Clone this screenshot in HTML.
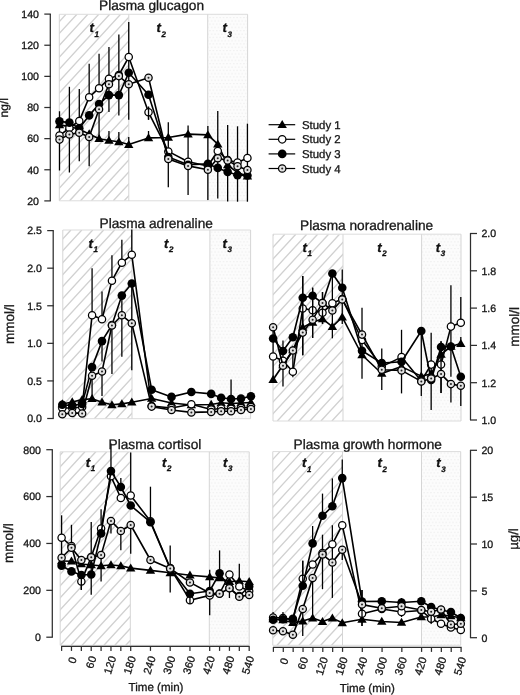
<!DOCTYPE html>
<html><head><meta charset="utf-8"><title>Plasma hormones</title>
<style>
html,body{margin:0;padding:0;background:#fff;}
svg{display:block;font-family:"Liberation Sans",sans-serif;will-change:transform;text-rendering:geometricPrecision;}
text{stroke:#111;stroke-width:0.3px;}
</style></head><body>
<svg width="520" height="695" viewBox="0 0 520 695">
<defs>
<pattern id="dots" patternUnits="userSpaceOnUse" width="3.4" height="6.6">
<rect width="3.4" height="6.6" fill="#fcfcfc"/>
<rect x="0.4" y="0.6" width="0.9" height="0.9" fill="#e2e2e2"/>
<rect x="2.1" y="3.9" width="0.9" height="0.9" fill="#e2e2e2"/>
</pattern>
</defs>
<rect width="520" height="695" fill="#fff"/>
<clipPath id="c1"><rect x="59.30" y="14.30" width="69.50" height="186.50"/></clipPath>
<path d="M-126.96 200.80 L44.14 14.30 M-116.04 200.80 L55.06 14.30 M-105.12 200.80 L65.98 14.30 M-94.20 200.80 L76.90 14.30 M-83.28 200.80 L87.82 14.30 M-72.36 200.80 L98.74 14.30 M-61.44 200.80 L109.66 14.30 M-50.52 200.80 L120.58 14.30 M-39.60 200.80 L131.50 14.30 M-28.68 200.80 L142.42 14.30 M-17.76 200.80 L153.34 14.30 M-6.84 200.80 L164.26 14.30 M4.08 200.80 L175.18 14.30 M15.00 200.80 L186.10 14.30 M25.92 200.80 L197.02 14.30 M36.84 200.80 L207.94 14.30 M47.76 200.80 L218.86 14.30 M58.68 200.80 L229.78 14.30 M69.60 200.80 L240.70 14.30 M80.52 200.80 L251.62 14.30 M91.44 200.80 L262.54 14.30 M102.36 200.80 L273.46 14.30 M113.28 200.80 L284.38 14.30 M124.20 200.80 L295.30 14.30" stroke="#d1d1d1" stroke-width="1.35" fill="none" clip-path="url(#c1)"/>
<rect x="207.70" y="14.30" width="39.90" height="186.50" fill="url(#dots)"/>
<path d="M59.30 14.30 H247.60 M59.30 200.80 H247.60" fill="none" stroke="#dcdcdc" stroke-width="1"/>
<line x1="59.30" y1="14.30" x2="59.30" y2="200.80" stroke="#d5d5d5" stroke-width="1"/>
<line x1="128.80" y1="14.30" x2="128.80" y2="200.80" stroke="#d5d5d5" stroke-width="1"/>
<line x1="207.70" y1="14.30" x2="207.70" y2="200.80" stroke="#d5d5d5" stroke-width="1"/>
<line x1="247.60" y1="14.30" x2="247.60" y2="200.80" stroke="#d5d5d5" stroke-width="1"/>
<line x1="59.50" y1="111.25" x2="59.50" y2="170.50" stroke="#000" stroke-width="1.3"/>
<line x1="69.39" y1="86.80" x2="69.39" y2="172.50" stroke="#000" stroke-width="1.3"/>
<line x1="79.28" y1="89.00" x2="79.28" y2="161.25" stroke="#000" stroke-width="1.3"/>
<line x1="89.17" y1="63.80" x2="89.17" y2="97.00" stroke="#000" stroke-width="1.3"/>
<line x1="89.17" y1="137.00" x2="89.17" y2="166.25" stroke="#000" stroke-width="1.3"/>
<line x1="99.06" y1="53.75" x2="99.06" y2="88.00" stroke="#000" stroke-width="1.3"/>
<line x1="99.06" y1="109.00" x2="99.06" y2="138.00" stroke="#000" stroke-width="1.3"/>
<line x1="108.95" y1="47.00" x2="108.95" y2="111.90" stroke="#000" stroke-width="1.3"/>
<line x1="108.95" y1="131.00" x2="108.95" y2="140.00" stroke="#000" stroke-width="1.3"/>
<line x1="118.85" y1="34.50" x2="118.85" y2="115.40" stroke="#000" stroke-width="1.3"/>
<line x1="118.85" y1="132.00" x2="118.85" y2="141.00" stroke="#000" stroke-width="1.3"/>
<line x1="128.74" y1="22.10" x2="128.74" y2="119.70" stroke="#000" stroke-width="1.3"/>
<line x1="128.74" y1="137.00" x2="128.74" y2="144.00" stroke="#000" stroke-width="1.3"/>
<line x1="148.52" y1="106.70" x2="148.52" y2="119.70" stroke="#000" stroke-width="1.3"/>
<line x1="148.52" y1="131.00" x2="148.52" y2="138.00" stroke="#000" stroke-width="1.3"/>
<line x1="168.30" y1="122.30" x2="168.30" y2="187.20" stroke="#000" stroke-width="1.3"/>
<line x1="188.08" y1="125.40" x2="188.08" y2="195.00" stroke="#000" stroke-width="1.3"/>
<line x1="207.87" y1="126.00" x2="207.87" y2="200.00" stroke="#000" stroke-width="1.3"/>
<line x1="217.76" y1="111.00" x2="217.76" y2="198.50" stroke="#000" stroke-width="1.3"/>
<line x1="227.65" y1="125.10" x2="227.65" y2="201.60" stroke="#000" stroke-width="1.3"/>
<line x1="237.54" y1="126.30" x2="237.54" y2="201.70" stroke="#000" stroke-width="1.3"/>
<line x1="247.43" y1="123.70" x2="247.43" y2="201.70" stroke="#000" stroke-width="1.3"/>
<polyline points="59.50,124.90 69.39,126.60 79.28,129.20 89.17,134.00 99.06,138.70 108.95,140.50 118.85,141.80 128.74,144.60 148.52,137.90 168.30,137.50 188.08,134.10 207.87,134.90 217.76,144.10 227.65,165.00 237.54,172.60 247.43,176.20" fill="none" stroke="#000" stroke-width="1.6" stroke-linejoin="round"/>
<path d="M54.80 128.26 L64.20 128.26 L59.50 120.26 Z" fill="#000"/>
<path d="M64.69 129.96 L74.09 129.96 L69.39 121.96 Z" fill="#000"/>
<path d="M74.58 132.56 L83.98 132.56 L79.28 124.56 Z" fill="#000"/>
<path d="M84.47 137.36 L93.87 137.36 L89.17 129.36 Z" fill="#000"/>
<path d="M94.36 142.06 L103.76 142.06 L99.06 134.06 Z" fill="#000"/>
<path d="M104.25 143.86 L113.66 143.86 L108.95 135.86 Z" fill="#000"/>
<path d="M114.15 145.16 L123.55 145.16 L118.85 137.16 Z" fill="#000"/>
<path d="M124.04 147.96 L133.44 147.96 L128.74 139.96 Z" fill="#000"/>
<path d="M143.82 141.26 L153.22 141.26 L148.52 133.26 Z" fill="#000"/>
<path d="M163.60 140.86 L173.00 140.86 L168.30 132.86 Z" fill="#000"/>
<path d="M183.38 137.46 L192.78 137.46 L188.08 129.46 Z" fill="#000"/>
<path d="M203.17 138.26 L212.56 138.26 L207.87 130.26 Z" fill="#000"/>
<path d="M213.06 147.46 L222.46 147.46 L217.76 139.46 Z" fill="#000"/>
<path d="M222.95 168.36 L232.35 168.36 L227.65 160.36 Z" fill="#000"/>
<path d="M232.84 175.96 L242.24 175.96 L237.54 167.96 Z" fill="#000"/>
<path d="M242.73 179.56 L252.13 179.56 L247.43 171.56 Z" fill="#000"/>
<polyline points="59.50,135.60 69.39,128.00 79.28,120.90 89.17,97.20 99.06,88.20 108.95,78.70 118.85,75.00 128.74,57.10 148.52,112.30 168.30,151.40 188.08,161.70 207.87,166.00 217.76,151.00 227.65,160.00 237.54,162.50 247.43,158.00" fill="none" stroke="#000" stroke-width="1.6" stroke-linejoin="round"/>
<circle cx="59.50" cy="135.60" r="3.65" fill="#fff" stroke="#000" stroke-width="1.25"/>
<circle cx="69.39" cy="128.00" r="3.65" fill="#fff" stroke="#000" stroke-width="1.25"/>
<circle cx="79.28" cy="120.90" r="3.65" fill="#fff" stroke="#000" stroke-width="1.25"/>
<circle cx="89.17" cy="97.20" r="3.65" fill="#fff" stroke="#000" stroke-width="1.25"/>
<circle cx="99.06" cy="88.20" r="3.65" fill="#fff" stroke="#000" stroke-width="1.25"/>
<circle cx="108.95" cy="78.70" r="3.65" fill="#fff" stroke="#000" stroke-width="1.25"/>
<circle cx="118.85" cy="75.00" r="3.65" fill="#fff" stroke="#000" stroke-width="1.25"/>
<circle cx="128.74" cy="57.10" r="3.65" fill="#fff" stroke="#000" stroke-width="1.25"/>
<circle cx="148.52" cy="112.30" r="3.65" fill="#fff" stroke="#000" stroke-width="1.25"/>
<circle cx="168.30" cy="151.40" r="3.65" fill="#fff" stroke="#000" stroke-width="1.25"/>
<circle cx="188.08" cy="161.70" r="3.65" fill="#fff" stroke="#000" stroke-width="1.25"/>
<circle cx="207.87" cy="166.00" r="3.65" fill="#fff" stroke="#000" stroke-width="1.25"/>
<circle cx="217.76" cy="151.00" r="3.65" fill="#fff" stroke="#000" stroke-width="1.25"/>
<circle cx="227.65" cy="160.00" r="3.65" fill="#fff" stroke="#000" stroke-width="1.25"/>
<circle cx="237.54" cy="162.50" r="3.65" fill="#fff" stroke="#000" stroke-width="1.25"/>
<circle cx="247.43" cy="158.00" r="3.65" fill="#fff" stroke="#000" stroke-width="1.25"/>
<polyline points="59.50,121.40 69.39,122.60 79.28,128.30 89.17,115.40 99.06,104.10 108.95,95.10 118.85,95.10 128.74,72.80 148.52,94.80 168.30,157.00 188.08,164.70 207.87,163.90 217.76,167.90 227.65,171.90 237.54,175.10 247.43,175.50" fill="none" stroke="#000" stroke-width="1.6" stroke-linejoin="round"/>
<line x1="148.52" y1="106.70" x2="148.52" y2="119.70" stroke="#000" stroke-width="1.3"/>
<circle cx="59.50" cy="121.40" r="4.3" fill="#000"/>
<circle cx="69.39" cy="122.60" r="4.3" fill="#000"/>
<circle cx="79.28" cy="128.30" r="4.3" fill="#000"/>
<circle cx="89.17" cy="115.40" r="4.3" fill="#000"/>
<circle cx="99.06" cy="104.10" r="4.3" fill="#000"/>
<circle cx="108.95" cy="95.10" r="4.3" fill="#000"/>
<circle cx="118.85" cy="95.10" r="4.3" fill="#000"/>
<circle cx="128.74" cy="72.80" r="4.3" fill="#000"/>
<circle cx="148.52" cy="94.80" r="4.3" fill="#000"/>
<circle cx="168.30" cy="157.00" r="4.3" fill="#000"/>
<circle cx="188.08" cy="164.70" r="4.3" fill="#000"/>
<circle cx="207.87" cy="163.90" r="4.3" fill="#000"/>
<circle cx="217.76" cy="167.90" r="4.3" fill="#000"/>
<circle cx="227.65" cy="171.90" r="4.3" fill="#000"/>
<circle cx="237.54" cy="175.10" r="4.3" fill="#000"/>
<circle cx="247.43" cy="175.50" r="4.3" fill="#000"/>
<polyline points="59.50,139.60 69.39,134.40 79.28,132.70 89.17,137.00 99.06,109.30 108.95,84.20 118.85,76.10 128.74,84.30 148.52,77.80 168.30,159.00 188.08,165.90 207.87,169.80 217.76,158.20 227.65,160.40 237.54,166.20 247.43,170.00" fill="none" stroke="#000" stroke-width="1.6" stroke-linejoin="round"/>
<circle cx="59.50" cy="139.60" r="3.65" fill="#e2e2e2" stroke="#000" stroke-width="1.25"/>
<circle cx="59.50" cy="139.60" r="1.0" fill="#222"/>
<circle cx="69.39" cy="134.40" r="3.65" fill="#e2e2e2" stroke="#000" stroke-width="1.25"/>
<circle cx="69.39" cy="134.40" r="1.0" fill="#222"/>
<circle cx="79.28" cy="132.70" r="3.65" fill="#e2e2e2" stroke="#000" stroke-width="1.25"/>
<circle cx="79.28" cy="132.70" r="1.0" fill="#222"/>
<circle cx="89.17" cy="137.00" r="3.65" fill="#e2e2e2" stroke="#000" stroke-width="1.25"/>
<circle cx="89.17" cy="137.00" r="1.0" fill="#222"/>
<circle cx="99.06" cy="109.30" r="3.65" fill="#e2e2e2" stroke="#000" stroke-width="1.25"/>
<circle cx="99.06" cy="109.30" r="1.0" fill="#222"/>
<circle cx="108.95" cy="84.20" r="3.65" fill="#e2e2e2" stroke="#000" stroke-width="1.25"/>
<circle cx="108.95" cy="84.20" r="1.0" fill="#222"/>
<circle cx="118.85" cy="76.10" r="3.65" fill="#e2e2e2" stroke="#000" stroke-width="1.25"/>
<circle cx="118.85" cy="76.10" r="1.0" fill="#222"/>
<circle cx="128.74" cy="84.30" r="3.65" fill="#e2e2e2" stroke="#000" stroke-width="1.25"/>
<circle cx="128.74" cy="84.30" r="1.0" fill="#222"/>
<circle cx="148.52" cy="77.80" r="3.65" fill="#e2e2e2" stroke="#000" stroke-width="1.25"/>
<circle cx="148.52" cy="77.80" r="1.0" fill="#222"/>
<circle cx="168.30" cy="159.00" r="3.65" fill="#e2e2e2" stroke="#000" stroke-width="1.25"/>
<circle cx="168.30" cy="159.00" r="1.0" fill="#222"/>
<circle cx="188.08" cy="165.90" r="3.65" fill="#e2e2e2" stroke="#000" stroke-width="1.25"/>
<circle cx="188.08" cy="165.90" r="1.0" fill="#222"/>
<circle cx="207.87" cy="169.80" r="3.65" fill="#e2e2e2" stroke="#000" stroke-width="1.25"/>
<circle cx="207.87" cy="169.80" r="1.0" fill="#222"/>
<circle cx="217.76" cy="158.20" r="3.65" fill="#e2e2e2" stroke="#000" stroke-width="1.25"/>
<circle cx="217.76" cy="158.20" r="1.0" fill="#222"/>
<circle cx="227.65" cy="160.40" r="3.65" fill="#e2e2e2" stroke="#000" stroke-width="1.25"/>
<circle cx="227.65" cy="160.40" r="1.0" fill="#222"/>
<circle cx="237.54" cy="166.20" r="3.65" fill="#e2e2e2" stroke="#000" stroke-width="1.25"/>
<circle cx="237.54" cy="166.20" r="1.0" fill="#222"/>
<circle cx="247.43" cy="170.00" r="3.65" fill="#e2e2e2" stroke="#000" stroke-width="1.25"/>
<circle cx="247.43" cy="170.00" r="1.0" fill="#222"/>
<line x1="50.30" y1="14.10" x2="50.30" y2="200.90" stroke="#2e2e2e" stroke-width="1.25"/>
<line x1="44.30" y1="14.10" x2="50.85" y2="14.10" stroke="#2e2e2e" stroke-width="1.25"/>
<text x="39.00" y="17.90" font-size="10.6" text-anchor="end" fill="#1a1a1a" >140</text>
<line x1="44.30" y1="45.23" x2="50.85" y2="45.23" stroke="#2e2e2e" stroke-width="1.25"/>
<text x="39.00" y="49.03" font-size="10.6" text-anchor="end" fill="#1a1a1a" >120</text>
<line x1="44.30" y1="76.37" x2="50.85" y2="76.37" stroke="#2e2e2e" stroke-width="1.25"/>
<text x="39.00" y="80.17" font-size="10.6" text-anchor="end" fill="#1a1a1a" >100</text>
<line x1="44.30" y1="107.50" x2="50.85" y2="107.50" stroke="#2e2e2e" stroke-width="1.25"/>
<text x="39.00" y="111.30" font-size="10.6" text-anchor="end" fill="#1a1a1a" >80</text>
<line x1="44.30" y1="138.64" x2="50.85" y2="138.64" stroke="#2e2e2e" stroke-width="1.25"/>
<text x="39.00" y="142.44" font-size="10.6" text-anchor="end" fill="#1a1a1a" >60</text>
<line x1="44.30" y1="169.77" x2="50.85" y2="169.77" stroke="#2e2e2e" stroke-width="1.25"/>
<text x="39.00" y="173.57" font-size="10.6" text-anchor="end" fill="#1a1a1a" >40</text>
<line x1="44.30" y1="200.90" x2="50.85" y2="200.90" stroke="#2e2e2e" stroke-width="1.25"/>
<text x="39.00" y="204.70" font-size="10.6" text-anchor="end" fill="#1a1a1a" >20</text>
<text x="99.00" y="9.50" font-size="13.7" text-anchor="start" fill="#1a1a1a" >Plasma glucagon</text>
<text x="91.80" y="32.30" font-size="13.2" font-weight="bold" font-style="italic" text-anchor="middle" fill="#111">t</text>
<text x="94.60" y="36.50" font-size="8" font-weight="bold" font-style="italic" text-anchor="start" fill="#111">1</text>
<text x="158.70" y="32.30" font-size="13.2" font-weight="bold" font-style="italic" text-anchor="middle" fill="#111">t</text>
<text x="161.50" y="36.50" font-size="8" font-weight="bold" font-style="italic" text-anchor="start" fill="#111">2</text>
<text x="224.80" y="32.30" font-size="13.2" font-weight="bold" font-style="italic" text-anchor="middle" fill="#111">t</text>
<text x="227.60" y="36.50" font-size="8" font-weight="bold" font-style="italic" text-anchor="start" fill="#111">3</text>
<text transform="translate(8.10,107.80) rotate(-90)" font-size="12" text-anchor="middle" fill="#1a1a1a">ng/l</text>
<clipPath id="c2"><rect x="62.80" y="230.00" width="69.20" height="188.70"/></clipPath>
<path d="M-124.06 418.70 L49.06 230.00 M-113.14 418.70 L59.98 230.00 M-102.22 418.70 L70.90 230.00 M-91.30 418.70 L81.82 230.00 M-80.38 418.70 L92.74 230.00 M-69.46 418.70 L103.66 230.00 M-58.54 418.70 L114.58 230.00 M-47.62 418.70 L125.50 230.00 M-36.70 418.70 L136.42 230.00 M-25.78 418.70 L147.34 230.00 M-14.86 418.70 L158.26 230.00 M-3.94 418.70 L169.18 230.00 M6.98 418.70 L180.10 230.00 M17.90 418.70 L191.02 230.00 M28.82 418.70 L201.94 230.00 M39.74 418.70 L212.86 230.00 M50.66 418.70 L223.78 230.00 M61.58 418.70 L234.70 230.00 M72.50 418.70 L245.62 230.00 M83.42 418.70 L256.54 230.00 M94.34 418.70 L267.46 230.00 M105.26 418.70 L278.38 230.00 M116.18 418.70 L289.30 230.00 M127.10 418.70 L300.22 230.00" stroke="#d1d1d1" stroke-width="1.35" fill="none" clip-path="url(#c2)"/>
<rect x="209.90" y="230.00" width="40.70" height="188.70" fill="url(#dots)"/>
<path d="M62.80 230.00 H250.60 M62.80 418.70 H250.60" fill="none" stroke="#dcdcdc" stroke-width="1"/>
<line x1="62.80" y1="230.00" x2="62.80" y2="418.70" stroke="#d5d5d5" stroke-width="1"/>
<line x1="132.00" y1="230.00" x2="132.00" y2="418.70" stroke="#d5d5d5" stroke-width="1"/>
<line x1="209.90" y1="230.00" x2="209.90" y2="418.70" stroke="#d5d5d5" stroke-width="1"/>
<line x1="250.60" y1="230.00" x2="250.60" y2="418.70" stroke="#d5d5d5" stroke-width="1"/>
<line x1="92.08" y1="268.30" x2="92.08" y2="315.30" stroke="#000" stroke-width="1.3"/>
<line x1="92.08" y1="377.00" x2="92.08" y2="397.00" stroke="#000" stroke-width="1.3"/>
<line x1="102.01" y1="291.60" x2="102.01" y2="319.30" stroke="#000" stroke-width="1.3"/>
<line x1="102.01" y1="345.00" x2="102.01" y2="361.50" stroke="#000" stroke-width="1.3"/>
<line x1="102.01" y1="373.60" x2="102.01" y2="396.00" stroke="#000" stroke-width="1.3"/>
<line x1="111.94" y1="255.30" x2="111.94" y2="281.00" stroke="#000" stroke-width="1.3"/>
<line x1="111.94" y1="328.70" x2="111.94" y2="374.00" stroke="#000" stroke-width="1.3"/>
<line x1="121.86" y1="239.70" x2="121.86" y2="263.00" stroke="#000" stroke-width="1.3"/>
<line x1="121.86" y1="296.00" x2="121.86" y2="356.70" stroke="#000" stroke-width="1.3"/>
<line x1="131.79" y1="229.50" x2="131.79" y2="255.00" stroke="#000" stroke-width="1.3"/>
<line x1="131.79" y1="283.50" x2="131.79" y2="370.20" stroke="#000" stroke-width="1.3"/>
<line x1="231.06" y1="379.60" x2="231.06" y2="398.50" stroke="#000" stroke-width="1.3"/>
<polyline points="62.30,404.00 72.23,402.00 82.15,399.60 92.08,398.70 102.01,402.20 111.94,404.80 121.86,403.90 131.79,402.20 151.64,398.50 171.50,403.00 191.35,405.00 211.20,404.50 221.13,402.80 231.06,403.50 240.99,403.00 250.91,402.50" fill="none" stroke="#000" stroke-width="1.6" stroke-linejoin="round"/>
<path d="M57.60 407.36 L67.00 407.36 L62.30 399.36 Z" fill="#000"/>
<path d="M67.53 405.36 L76.93 405.36 L72.23 397.36 Z" fill="#000"/>
<path d="M77.45 402.96 L86.85 402.96 L82.15 394.96 Z" fill="#000"/>
<path d="M87.38 402.06 L96.78 402.06 L92.08 394.06 Z" fill="#000"/>
<path d="M97.31 405.56 L106.71 405.56 L102.01 397.56 Z" fill="#000"/>
<path d="M107.23 408.16 L116.64 408.16 L111.94 400.16 Z" fill="#000"/>
<path d="M117.16 407.26 L126.56 407.26 L121.86 399.26 Z" fill="#000"/>
<path d="M127.09 405.56 L136.49 405.56 L131.79 397.56 Z" fill="#000"/>
<path d="M146.94 401.86 L156.34 401.86 L151.64 393.86 Z" fill="#000"/>
<path d="M166.80 406.36 L176.20 406.36 L171.50 398.36 Z" fill="#000"/>
<path d="M186.65 408.36 L196.05 408.36 L191.35 400.36 Z" fill="#000"/>
<path d="M206.50 407.86 L215.90 407.86 L211.20 399.86 Z" fill="#000"/>
<path d="M216.43 406.16 L225.83 406.16 L221.13 398.16 Z" fill="#000"/>
<path d="M226.36 406.86 L235.76 406.86 L231.06 398.86 Z" fill="#000"/>
<path d="M236.29 406.36 L245.69 406.36 L240.99 398.36 Z" fill="#000"/>
<path d="M246.21 405.86 L255.61 405.86 L250.91 397.86 Z" fill="#000"/>
<polyline points="62.30,408.00 72.23,408.00 82.15,407.00 92.08,315.30 102.01,319.30 111.94,280.70 121.86,262.70 131.79,254.80 151.64,406.00 171.50,408.00 191.35,404.30 211.20,409.50 221.13,408.50 231.06,408.80 240.99,408.00 250.91,407.00" fill="none" stroke="#000" stroke-width="1.6" stroke-linejoin="round"/>
<circle cx="62.30" cy="408.00" r="3.65" fill="#fff" stroke="#000" stroke-width="1.25"/>
<circle cx="72.23" cy="408.00" r="3.65" fill="#fff" stroke="#000" stroke-width="1.25"/>
<circle cx="82.15" cy="407.00" r="3.65" fill="#fff" stroke="#000" stroke-width="1.25"/>
<circle cx="92.08" cy="315.30" r="3.65" fill="#fff" stroke="#000" stroke-width="1.25"/>
<circle cx="102.01" cy="319.30" r="3.65" fill="#fff" stroke="#000" stroke-width="1.25"/>
<circle cx="111.94" cy="280.70" r="3.65" fill="#fff" stroke="#000" stroke-width="1.25"/>
<circle cx="121.86" cy="262.70" r="3.65" fill="#fff" stroke="#000" stroke-width="1.25"/>
<circle cx="131.79" cy="254.80" r="3.65" fill="#fff" stroke="#000" stroke-width="1.25"/>
<circle cx="151.64" cy="406.00" r="3.65" fill="#fff" stroke="#000" stroke-width="1.25"/>
<circle cx="171.50" cy="408.00" r="3.65" fill="#fff" stroke="#000" stroke-width="1.25"/>
<circle cx="191.35" cy="404.30" r="3.65" fill="#fff" stroke="#000" stroke-width="1.25"/>
<circle cx="211.20" cy="409.50" r="3.65" fill="#fff" stroke="#000" stroke-width="1.25"/>
<circle cx="221.13" cy="408.50" r="3.65" fill="#fff" stroke="#000" stroke-width="1.25"/>
<circle cx="231.06" cy="408.80" r="3.65" fill="#fff" stroke="#000" stroke-width="1.25"/>
<circle cx="240.99" cy="408.00" r="3.65" fill="#fff" stroke="#000" stroke-width="1.25"/>
<circle cx="250.91" cy="407.00" r="3.65" fill="#fff" stroke="#000" stroke-width="1.25"/>
<polyline points="62.30,404.80 72.23,405.60 82.15,403.90 92.08,367.10 102.01,341.10 111.94,325.00 121.86,295.60 131.79,283.50 151.64,389.70 171.50,396.90 191.35,392.00 211.20,393.90 221.13,397.80 231.06,399.00 240.99,398.50 250.91,396.20" fill="none" stroke="#000" stroke-width="1.6" stroke-linejoin="round"/>
<circle cx="62.30" cy="404.80" r="4.3" fill="#000"/>
<circle cx="72.23" cy="405.60" r="4.3" fill="#000"/>
<circle cx="82.15" cy="403.90" r="4.3" fill="#000"/>
<circle cx="92.08" cy="367.10" r="4.3" fill="#000"/>
<circle cx="102.01" cy="341.10" r="4.3" fill="#000"/>
<circle cx="111.94" cy="325.00" r="4.3" fill="#000"/>
<circle cx="121.86" cy="295.60" r="4.3" fill="#000"/>
<circle cx="131.79" cy="283.50" r="4.3" fill="#000"/>
<circle cx="151.64" cy="389.70" r="4.3" fill="#000"/>
<circle cx="171.50" cy="396.90" r="4.3" fill="#000"/>
<circle cx="191.35" cy="392.00" r="4.3" fill="#000"/>
<circle cx="211.20" cy="393.90" r="4.3" fill="#000"/>
<circle cx="221.13" cy="397.80" r="4.3" fill="#000"/>
<circle cx="231.06" cy="399.00" r="4.3" fill="#000"/>
<circle cx="240.99" cy="398.50" r="4.3" fill="#000"/>
<circle cx="250.91" cy="396.20" r="4.3" fill="#000"/>
<polyline points="62.30,414.30 72.23,412.90 82.15,413.40 92.08,375.70 102.01,371.40 111.94,325.50 121.86,315.30 131.79,323.30 151.64,406.60 171.50,410.00 191.35,412.40 211.20,411.90 221.13,411.20 231.06,411.20 240.99,410.00 250.91,408.90" fill="none" stroke="#000" stroke-width="1.6" stroke-linejoin="round"/>
<circle cx="62.30" cy="414.30" r="3.65" fill="#e2e2e2" stroke="#000" stroke-width="1.25"/>
<circle cx="62.30" cy="414.30" r="1.0" fill="#222"/>
<circle cx="72.23" cy="412.90" r="3.65" fill="#e2e2e2" stroke="#000" stroke-width="1.25"/>
<circle cx="72.23" cy="412.90" r="1.0" fill="#222"/>
<circle cx="82.15" cy="413.40" r="3.65" fill="#e2e2e2" stroke="#000" stroke-width="1.25"/>
<circle cx="82.15" cy="413.40" r="1.0" fill="#222"/>
<circle cx="92.08" cy="375.70" r="3.65" fill="#e2e2e2" stroke="#000" stroke-width="1.25"/>
<circle cx="92.08" cy="375.70" r="1.0" fill="#222"/>
<circle cx="102.01" cy="371.40" r="3.65" fill="#e2e2e2" stroke="#000" stroke-width="1.25"/>
<circle cx="102.01" cy="371.40" r="1.0" fill="#222"/>
<circle cx="111.94" cy="325.50" r="3.65" fill="#e2e2e2" stroke="#000" stroke-width="1.25"/>
<circle cx="111.94" cy="325.50" r="1.0" fill="#222"/>
<circle cx="121.86" cy="315.30" r="3.65" fill="#e2e2e2" stroke="#000" stroke-width="1.25"/>
<circle cx="121.86" cy="315.30" r="1.0" fill="#222"/>
<circle cx="131.79" cy="323.30" r="3.65" fill="#e2e2e2" stroke="#000" stroke-width="1.25"/>
<circle cx="131.79" cy="323.30" r="1.0" fill="#222"/>
<circle cx="151.64" cy="406.60" r="3.65" fill="#e2e2e2" stroke="#000" stroke-width="1.25"/>
<circle cx="151.64" cy="406.60" r="1.0" fill="#222"/>
<circle cx="171.50" cy="410.00" r="3.65" fill="#e2e2e2" stroke="#000" stroke-width="1.25"/>
<circle cx="171.50" cy="410.00" r="1.0" fill="#222"/>
<circle cx="191.35" cy="412.40" r="3.65" fill="#e2e2e2" stroke="#000" stroke-width="1.25"/>
<circle cx="191.35" cy="412.40" r="1.0" fill="#222"/>
<circle cx="211.20" cy="411.90" r="3.65" fill="#e2e2e2" stroke="#000" stroke-width="1.25"/>
<circle cx="211.20" cy="411.90" r="1.0" fill="#222"/>
<circle cx="221.13" cy="411.20" r="3.65" fill="#e2e2e2" stroke="#000" stroke-width="1.25"/>
<circle cx="221.13" cy="411.20" r="1.0" fill="#222"/>
<circle cx="231.06" cy="411.20" r="3.65" fill="#e2e2e2" stroke="#000" stroke-width="1.25"/>
<circle cx="231.06" cy="411.20" r="1.0" fill="#222"/>
<circle cx="240.99" cy="410.00" r="3.65" fill="#e2e2e2" stroke="#000" stroke-width="1.25"/>
<circle cx="240.99" cy="410.00" r="1.0" fill="#222"/>
<circle cx="250.91" cy="408.90" r="3.65" fill="#e2e2e2" stroke="#000" stroke-width="1.25"/>
<circle cx="250.91" cy="408.90" r="1.0" fill="#222"/>
<line x1="53.20" y1="230.60" x2="53.20" y2="418.50" stroke="#2e2e2e" stroke-width="1.25"/>
<line x1="47.20" y1="230.60" x2="53.75" y2="230.60" stroke="#2e2e2e" stroke-width="1.25"/>
<text x="41.90" y="234.40" font-size="10.6" text-anchor="end" fill="#1a1a1a" >2.5</text>
<line x1="47.20" y1="268.18" x2="53.75" y2="268.18" stroke="#2e2e2e" stroke-width="1.25"/>
<text x="41.90" y="271.98" font-size="10.6" text-anchor="end" fill="#1a1a1a" >2.0</text>
<line x1="47.20" y1="305.76" x2="53.75" y2="305.76" stroke="#2e2e2e" stroke-width="1.25"/>
<text x="41.90" y="309.56" font-size="10.6" text-anchor="end" fill="#1a1a1a" >1.5</text>
<line x1="47.20" y1="343.34" x2="53.75" y2="343.34" stroke="#2e2e2e" stroke-width="1.25"/>
<text x="41.90" y="347.14" font-size="10.6" text-anchor="end" fill="#1a1a1a" >1.0</text>
<line x1="47.20" y1="380.92" x2="53.75" y2="380.92" stroke="#2e2e2e" stroke-width="1.25"/>
<text x="41.90" y="384.72" font-size="10.6" text-anchor="end" fill="#1a1a1a" >0.5</text>
<line x1="47.20" y1="418.50" x2="53.75" y2="418.50" stroke="#2e2e2e" stroke-width="1.25"/>
<text x="41.90" y="422.30" font-size="10.6" text-anchor="end" fill="#1a1a1a" >0.0</text>
<text x="99.50" y="228.20" font-size="13.7" text-anchor="start" fill="#1a1a1a" >Plasma adrenaline</text>
<text x="90.80" y="247.90" font-size="13.2" font-weight="bold" font-style="italic" text-anchor="middle" fill="#111">t</text>
<text x="93.60" y="252.10" font-size="8" font-weight="bold" font-style="italic" text-anchor="start" fill="#111">1</text>
<text x="166.10" y="247.90" font-size="13.2" font-weight="bold" font-style="italic" text-anchor="middle" fill="#111">t</text>
<text x="168.90" y="252.10" font-size="8" font-weight="bold" font-style="italic" text-anchor="start" fill="#111">2</text>
<text x="224.80" y="247.90" font-size="13.2" font-weight="bold" font-style="italic" text-anchor="middle" fill="#111">t</text>
<text x="227.60" y="252.10" font-size="8" font-weight="bold" font-style="italic" text-anchor="start" fill="#111">3</text>
<text transform="translate(14.40,324.20) rotate(-90)" font-size="13.5" text-anchor="middle" fill="#1a1a1a">mmol/l</text>
<clipPath id="c3"><rect x="273.00" y="234.20" width="70.00" height="186.80"/></clipPath>
<path d="M80.74 421.00 L252.12 234.20 M91.66 421.00 L263.04 234.20 M102.58 421.00 L273.96 234.20 M113.50 421.00 L284.88 234.20 M124.42 421.00 L295.80 234.20 M135.34 421.00 L306.72 234.20 M146.26 421.00 L317.64 234.20 M157.18 421.00 L328.56 234.20 M168.10 421.00 L339.48 234.20 M179.02 421.00 L350.40 234.20 M189.94 421.00 L361.32 234.20 M200.86 421.00 L372.24 234.20 M211.78 421.00 L383.16 234.20 M222.70 421.00 L394.08 234.20 M233.62 421.00 L405.00 234.20 M244.54 421.00 L415.92 234.20 M255.46 421.00 L426.84 234.20 M266.38 421.00 L437.76 234.20 M277.30 421.00 L448.68 234.20 M288.22 421.00 L459.60 234.20 M299.14 421.00 L470.52 234.20 M310.06 421.00 L481.44 234.20 M320.98 421.00 L492.36 234.20 M331.90 421.00 L503.28 234.20 M342.82 421.00 L514.20 234.20" stroke="#d1d1d1" stroke-width="1.35" fill="none" clip-path="url(#c3)"/>
<rect x="421.60" y="234.20" width="39.40" height="186.80" fill="url(#dots)"/>
<path d="M273.00 234.20 H461.00 M273.00 421.00 H461.00" fill="none" stroke="#dcdcdc" stroke-width="1"/>
<line x1="273.00" y1="234.20" x2="273.00" y2="421.00" stroke="#d5d5d5" stroke-width="1"/>
<line x1="343.00" y1="234.20" x2="343.00" y2="421.00" stroke="#d5d5d5" stroke-width="1"/>
<line x1="421.60" y1="234.20" x2="421.60" y2="421.00" stroke="#d5d5d5" stroke-width="1"/>
<line x1="461.00" y1="234.20" x2="461.00" y2="421.00" stroke="#d5d5d5" stroke-width="1"/>
<line x1="273.10" y1="327.00" x2="273.10" y2="380.00" stroke="#000" stroke-width="1.3"/>
<line x1="282.98" y1="340.60" x2="282.98" y2="386.40" stroke="#000" stroke-width="1.3"/>
<line x1="292.86" y1="353.70" x2="292.86" y2="377.30" stroke="#000" stroke-width="1.3"/>
<line x1="302.74" y1="275.90" x2="302.74" y2="355.30" stroke="#000" stroke-width="1.3"/>
<line x1="312.62" y1="287.70" x2="312.62" y2="338.00" stroke="#000" stroke-width="1.3"/>
<line x1="322.50" y1="292.00" x2="322.50" y2="324.00" stroke="#000" stroke-width="1.3"/>
<line x1="332.37" y1="273.50" x2="332.37" y2="338.30" stroke="#000" stroke-width="1.3"/>
<line x1="342.25" y1="269.50" x2="342.25" y2="324.00" stroke="#000" stroke-width="1.3"/>
<line x1="362.01" y1="307.80" x2="362.01" y2="378.70" stroke="#000" stroke-width="1.3"/>
<line x1="381.77" y1="348.40" x2="381.77" y2="390.00" stroke="#000" stroke-width="1.3"/>
<line x1="401.53" y1="329.80" x2="401.53" y2="393.40" stroke="#000" stroke-width="1.3"/>
<line x1="421.29" y1="333.50" x2="421.29" y2="396.00" stroke="#000" stroke-width="1.3"/>
<line x1="431.16" y1="332.70" x2="431.16" y2="410.00" stroke="#000" stroke-width="1.3"/>
<line x1="441.04" y1="341.30" x2="441.04" y2="393.00" stroke="#000" stroke-width="1.3"/>
<line x1="450.92" y1="285.20" x2="450.92" y2="376.70" stroke="#000" stroke-width="1.3"/>
<line x1="450.92" y1="384.00" x2="450.92" y2="402.50" stroke="#000" stroke-width="1.3"/>
<line x1="460.80" y1="296.90" x2="460.80" y2="320.60" stroke="#000" stroke-width="1.3"/>
<line x1="460.80" y1="337.00" x2="460.80" y2="343.00" stroke="#000" stroke-width="1.3"/>
<line x1="460.80" y1="386.00" x2="460.80" y2="406.00" stroke="#000" stroke-width="1.3"/>
<polyline points="273.10,379.70 282.98,365.00 292.86,350.00 302.74,327.50 312.62,322.30 322.50,318.80 332.37,326.60 342.25,317.20 362.01,355.00 381.77,373.50 401.53,366.60 421.29,376.10 431.16,374.00 441.04,354.30 450.92,346.50 460.80,343.60" fill="none" stroke="#000" stroke-width="1.6" stroke-linejoin="round"/>
<path d="M268.40 383.06 L277.80 383.06 L273.10 375.06 Z" fill="#000"/>
<path d="M278.28 368.36 L287.68 368.36 L282.98 360.36 Z" fill="#000"/>
<path d="M288.16 353.36 L297.56 353.36 L292.86 345.36 Z" fill="#000"/>
<path d="M298.04 330.86 L307.44 330.86 L302.74 322.86 Z" fill="#000"/>
<path d="M307.92 325.66 L317.32 325.66 L312.62 317.66 Z" fill="#000"/>
<path d="M317.80 322.16 L327.19 322.16 L322.50 314.16 Z" fill="#000"/>
<path d="M327.67 329.96 L337.07 329.96 L332.37 321.96 Z" fill="#000"/>
<path d="M337.55 320.56 L346.95 320.56 L342.25 312.56 Z" fill="#000"/>
<path d="M357.31 358.36 L366.71 358.36 L362.01 350.36 Z" fill="#000"/>
<path d="M377.07 376.86 L386.47 376.86 L381.77 368.86 Z" fill="#000"/>
<path d="M396.83 369.96 L406.23 369.96 L401.53 361.96 Z" fill="#000"/>
<path d="M416.59 379.46 L425.99 379.46 L421.29 371.46 Z" fill="#000"/>
<path d="M426.46 377.36 L435.86 377.36 L431.16 369.36 Z" fill="#000"/>
<path d="M436.34 357.66 L445.74 357.66 L441.04 349.66 Z" fill="#000"/>
<path d="M446.22 349.86 L455.62 349.86 L450.92 341.86 Z" fill="#000"/>
<path d="M456.10 346.96 L465.50 346.96 L460.80 338.96 Z" fill="#000"/>
<polyline points="273.10,356.50 282.98,360.70 292.86,371.80 302.74,308.40 312.62,310.20 322.50,312.80 332.37,303.30 342.25,299.00 362.01,340.00 381.77,366.60 401.53,357.10 421.29,381.00 431.16,364.60 441.04,364.60 450.92,326.60 460.80,322.80" fill="none" stroke="#000" stroke-width="1.6" stroke-linejoin="round"/>
<circle cx="273.10" cy="356.50" r="3.65" fill="#fff" stroke="#000" stroke-width="1.25"/>
<circle cx="282.98" cy="360.70" r="3.65" fill="#fff" stroke="#000" stroke-width="1.25"/>
<circle cx="292.86" cy="371.80" r="3.65" fill="#fff" stroke="#000" stroke-width="1.25"/>
<circle cx="302.74" cy="308.40" r="3.65" fill="#fff" stroke="#000" stroke-width="1.25"/>
<circle cx="312.62" cy="310.20" r="3.65" fill="#fff" stroke="#000" stroke-width="1.25"/>
<circle cx="322.50" cy="312.80" r="3.65" fill="#fff" stroke="#000" stroke-width="1.25"/>
<circle cx="332.37" cy="303.30" r="3.65" fill="#fff" stroke="#000" stroke-width="1.25"/>
<circle cx="342.25" cy="299.00" r="3.65" fill="#fff" stroke="#000" stroke-width="1.25"/>
<circle cx="362.01" cy="340.00" r="3.65" fill="#fff" stroke="#000" stroke-width="1.25"/>
<circle cx="381.77" cy="366.60" r="3.65" fill="#fff" stroke="#000" stroke-width="1.25"/>
<circle cx="401.53" cy="357.10" r="3.65" fill="#fff" stroke="#000" stroke-width="1.25"/>
<circle cx="421.29" cy="381.00" r="3.65" fill="#fff" stroke="#000" stroke-width="1.25"/>
<circle cx="431.16" cy="364.60" r="3.65" fill="#fff" stroke="#000" stroke-width="1.25"/>
<circle cx="441.04" cy="364.60" r="3.65" fill="#fff" stroke="#000" stroke-width="1.25"/>
<circle cx="450.92" cy="326.60" r="3.65" fill="#fff" stroke="#000" stroke-width="1.25"/>
<circle cx="460.80" cy="322.80" r="3.65" fill="#fff" stroke="#000" stroke-width="1.25"/>
<polyline points="273.10,338.50 282.98,351.00 292.86,337.20 302.74,297.70 312.62,295.80 322.50,303.00 332.37,273.50 342.25,287.70 362.01,350.70 381.77,363.10 401.53,361.80 421.29,331.00 431.16,380.00 441.04,347.00 450.92,346.50 460.80,376.70" fill="none" stroke="#000" stroke-width="1.6" stroke-linejoin="round"/>
<line x1="302.74" y1="275.90" x2="302.74" y2="355.30" stroke="#000" stroke-width="1.3"/>
<line x1="312.62" y1="287.70" x2="312.62" y2="338.00" stroke="#000" stroke-width="1.3"/>
<line x1="322.50" y1="292.00" x2="322.50" y2="324.00" stroke="#000" stroke-width="1.3"/>
<line x1="441.04" y1="341.30" x2="441.04" y2="393.00" stroke="#000" stroke-width="1.3"/>
<circle cx="273.10" cy="338.50" r="4.3" fill="#000"/>
<circle cx="282.98" cy="351.00" r="4.3" fill="#000"/>
<circle cx="292.86" cy="337.20" r="4.3" fill="#000"/>
<circle cx="302.74" cy="297.70" r="4.3" fill="#000"/>
<circle cx="312.62" cy="295.80" r="4.3" fill="#000"/>
<circle cx="322.50" cy="303.00" r="4.3" fill="#000"/>
<circle cx="332.37" cy="273.50" r="4.3" fill="#000"/>
<circle cx="342.25" cy="287.70" r="4.3" fill="#000"/>
<circle cx="362.01" cy="350.70" r="4.3" fill="#000"/>
<circle cx="381.77" cy="363.10" r="4.3" fill="#000"/>
<circle cx="401.53" cy="361.80" r="4.3" fill="#000"/>
<circle cx="421.29" cy="331.00" r="4.3" fill="#000"/>
<circle cx="431.16" cy="380.00" r="4.3" fill="#000"/>
<circle cx="441.04" cy="347.00" r="4.3" fill="#000"/>
<circle cx="450.92" cy="346.50" r="4.3" fill="#000"/>
<circle cx="460.80" cy="376.70" r="4.3" fill="#000"/>
<polyline points="273.10,327.20 282.98,365.80 292.86,350.50 302.74,332.60 312.62,319.70 322.50,302.90 332.37,310.50 342.25,299.40 362.01,334.60 381.77,369.70 401.53,370.40 421.29,381.40 431.16,378.40 441.04,374.10 450.92,384.10 460.80,385.70" fill="none" stroke="#000" stroke-width="1.6" stroke-linejoin="round"/>
<circle cx="273.10" cy="327.20" r="3.65" fill="#e2e2e2" stroke="#000" stroke-width="1.25"/>
<circle cx="273.10" cy="327.20" r="1.0" fill="#222"/>
<circle cx="282.98" cy="365.80" r="3.65" fill="#e2e2e2" stroke="#000" stroke-width="1.25"/>
<circle cx="282.98" cy="365.80" r="1.0" fill="#222"/>
<circle cx="292.86" cy="350.50" r="3.65" fill="#e2e2e2" stroke="#000" stroke-width="1.25"/>
<circle cx="292.86" cy="350.50" r="1.0" fill="#222"/>
<circle cx="302.74" cy="332.60" r="3.65" fill="#e2e2e2" stroke="#000" stroke-width="1.25"/>
<circle cx="302.74" cy="332.60" r="1.0" fill="#222"/>
<circle cx="312.62" cy="319.70" r="3.65" fill="#e2e2e2" stroke="#000" stroke-width="1.25"/>
<circle cx="312.62" cy="319.70" r="1.0" fill="#222"/>
<circle cx="322.50" cy="302.90" r="3.65" fill="#e2e2e2" stroke="#000" stroke-width="1.25"/>
<circle cx="322.50" cy="302.90" r="1.0" fill="#222"/>
<circle cx="332.37" cy="310.50" r="3.65" fill="#e2e2e2" stroke="#000" stroke-width="1.25"/>
<circle cx="332.37" cy="310.50" r="1.0" fill="#222"/>
<circle cx="342.25" cy="299.40" r="3.65" fill="#e2e2e2" stroke="#000" stroke-width="1.25"/>
<circle cx="342.25" cy="299.40" r="1.0" fill="#222"/>
<circle cx="362.01" cy="334.60" r="3.65" fill="#e2e2e2" stroke="#000" stroke-width="1.25"/>
<circle cx="362.01" cy="334.60" r="1.0" fill="#222"/>
<circle cx="381.77" cy="369.70" r="3.65" fill="#e2e2e2" stroke="#000" stroke-width="1.25"/>
<circle cx="381.77" cy="369.70" r="1.0" fill="#222"/>
<circle cx="401.53" cy="370.40" r="3.65" fill="#e2e2e2" stroke="#000" stroke-width="1.25"/>
<circle cx="401.53" cy="370.40" r="1.0" fill="#222"/>
<circle cx="421.29" cy="381.40" r="3.65" fill="#e2e2e2" stroke="#000" stroke-width="1.25"/>
<circle cx="421.29" cy="381.40" r="1.0" fill="#222"/>
<circle cx="431.16" cy="378.40" r="3.65" fill="#e2e2e2" stroke="#000" stroke-width="1.25"/>
<circle cx="431.16" cy="378.40" r="1.0" fill="#222"/>
<circle cx="441.04" cy="374.10" r="3.65" fill="#e2e2e2" stroke="#000" stroke-width="1.25"/>
<circle cx="441.04" cy="374.10" r="1.0" fill="#222"/>
<circle cx="450.92" cy="384.10" r="3.65" fill="#e2e2e2" stroke="#000" stroke-width="1.25"/>
<circle cx="450.92" cy="384.10" r="1.0" fill="#222"/>
<circle cx="460.80" cy="385.70" r="3.65" fill="#e2e2e2" stroke="#000" stroke-width="1.25"/>
<circle cx="460.80" cy="385.70" r="1.0" fill="#222"/>
<line x1="470.50" y1="233.50" x2="470.50" y2="420.00" stroke="#2e2e2e" stroke-width="1.25"/>
<line x1="469.95" y1="233.50" x2="477.00" y2="233.50" stroke="#2e2e2e" stroke-width="1.25"/>
<text x="481.40" y="237.30" font-size="10.6" text-anchor="start" fill="#1a1a1a" >2.0</text>
<line x1="469.95" y1="270.80" x2="477.00" y2="270.80" stroke="#2e2e2e" stroke-width="1.25"/>
<text x="481.40" y="274.60" font-size="10.6" text-anchor="start" fill="#1a1a1a" >1.8</text>
<line x1="469.95" y1="308.10" x2="477.00" y2="308.10" stroke="#2e2e2e" stroke-width="1.25"/>
<text x="481.40" y="311.90" font-size="10.6" text-anchor="start" fill="#1a1a1a" >1.6</text>
<line x1="469.95" y1="345.40" x2="477.00" y2="345.40" stroke="#2e2e2e" stroke-width="1.25"/>
<text x="481.40" y="349.20" font-size="10.6" text-anchor="start" fill="#1a1a1a" >1.4</text>
<line x1="469.95" y1="382.70" x2="477.00" y2="382.70" stroke="#2e2e2e" stroke-width="1.25"/>
<text x="481.40" y="386.50" font-size="10.6" text-anchor="start" fill="#1a1a1a" >1.2</text>
<line x1="469.95" y1="420.00" x2="477.00" y2="420.00" stroke="#2e2e2e" stroke-width="1.25"/>
<text x="481.40" y="423.80" font-size="10.6" text-anchor="start" fill="#1a1a1a" >1.0</text>
<text x="300.00" y="229.80" font-size="13.7" text-anchor="start" fill="#1a1a1a" >Plasma noradrenaline</text>
<text x="304.80" y="251.60" font-size="13.2" font-weight="bold" font-style="italic" text-anchor="middle" fill="#111">t</text>
<text x="307.60" y="255.80" font-size="8" font-weight="bold" font-style="italic" text-anchor="start" fill="#111">1</text>
<text x="379.50" y="251.60" font-size="13.2" font-weight="bold" font-style="italic" text-anchor="middle" fill="#111">t</text>
<text x="382.30" y="255.80" font-size="8" font-weight="bold" font-style="italic" text-anchor="start" fill="#111">2</text>
<text x="438.00" y="251.60" font-size="13.2" font-weight="bold" font-style="italic" text-anchor="middle" fill="#111">t</text>
<text x="440.80" y="255.80" font-size="8" font-weight="bold" font-style="italic" text-anchor="start" fill="#111">3</text>
<text transform="translate(518.70,326.90) rotate(-90)" font-size="13.5" text-anchor="middle" fill="#1a1a1a">mmol/l</text>
<clipPath id="c4"><rect x="60.20" y="451.80" width="70.10" height="193.50"/></clipPath>
<path d="M-136.28 645.30 L41.24 451.80 M-125.36 645.30 L52.16 451.80 M-114.44 645.30 L63.08 451.80 M-103.52 645.30 L74.00 451.80 M-92.60 645.30 L84.92 451.80 M-81.68 645.30 L95.84 451.80 M-70.76 645.30 L106.76 451.80 M-59.84 645.30 L117.68 451.80 M-48.92 645.30 L128.60 451.80 M-38.00 645.30 L139.52 451.80 M-27.08 645.30 L150.44 451.80 M-16.16 645.30 L161.36 451.80 M-5.24 645.30 L172.28 451.80 M5.68 645.30 L183.20 451.80 M16.60 645.30 L194.12 451.80 M27.52 645.30 L205.04 451.80 M38.44 645.30 L215.96 451.80 M49.36 645.30 L226.88 451.80 M60.28 645.30 L237.80 451.80 M71.20 645.30 L248.72 451.80 M82.12 645.30 L259.64 451.80 M93.04 645.30 L270.56 451.80 M103.96 645.30 L281.48 451.80 M114.88 645.30 L292.40 451.80 M125.80 645.30 L303.32 451.80" stroke="#d1d1d1" stroke-width="1.35" fill="none" clip-path="url(#c4)"/>
<rect x="209.30" y="451.80" width="39.90" height="193.50" fill="url(#dots)"/>
<path d="M60.20 451.80 H249.20 M60.20 645.30 H249.20" fill="none" stroke="#dcdcdc" stroke-width="1"/>
<line x1="60.20" y1="451.80" x2="60.20" y2="645.30" stroke="#d5d5d5" stroke-width="1"/>
<line x1="130.30" y1="451.80" x2="130.30" y2="645.30" stroke="#d5d5d5" stroke-width="1"/>
<line x1="209.30" y1="451.80" x2="209.30" y2="645.30" stroke="#d5d5d5" stroke-width="1"/>
<line x1="249.20" y1="451.80" x2="249.20" y2="645.30" stroke="#d5d5d5" stroke-width="1"/>
<line x1="61.60" y1="515.30" x2="61.60" y2="557.00" stroke="#000" stroke-width="1.3"/>
<line x1="71.47" y1="524.80" x2="71.47" y2="547.00" stroke="#000" stroke-width="1.3"/>
<line x1="81.35" y1="581.40" x2="81.35" y2="590.00" stroke="#000" stroke-width="1.3"/>
<line x1="91.22" y1="522.00" x2="91.22" y2="594.70" stroke="#000" stroke-width="1.3"/>
<line x1="101.09" y1="509.20" x2="101.09" y2="528.00" stroke="#000" stroke-width="1.3"/>
<line x1="101.09" y1="559.00" x2="101.09" y2="581.40" stroke="#000" stroke-width="1.3"/>
<line x1="110.97" y1="443.50" x2="110.97" y2="471.00" stroke="#000" stroke-width="1.3"/>
<line x1="110.97" y1="523.00" x2="110.97" y2="533.40" stroke="#000" stroke-width="1.3"/>
<line x1="120.84" y1="478.00" x2="120.84" y2="487.00" stroke="#000" stroke-width="1.3"/>
<line x1="120.84" y1="534.70" x2="120.84" y2="550.30" stroke="#000" stroke-width="1.3"/>
<line x1="130.71" y1="452.50" x2="130.71" y2="495.00" stroke="#000" stroke-width="1.3"/>
<line x1="130.71" y1="528.70" x2="130.71" y2="553.70" stroke="#000" stroke-width="1.3"/>
<line x1="150.46" y1="486.70" x2="150.46" y2="522.00" stroke="#000" stroke-width="1.3"/>
<line x1="170.20" y1="545.60" x2="170.20" y2="592.50" stroke="#000" stroke-width="1.3"/>
<line x1="189.95" y1="600.00" x2="189.95" y2="603.50" stroke="#000" stroke-width="1.3"/>
<line x1="209.69" y1="569.70" x2="209.69" y2="615.30" stroke="#000" stroke-width="1.3"/>
<line x1="219.57" y1="550.40" x2="219.57" y2="573.00" stroke="#000" stroke-width="1.3"/>
<line x1="229.44" y1="590.00" x2="229.44" y2="598.00" stroke="#000" stroke-width="1.3"/>
<line x1="239.31" y1="563.70" x2="239.31" y2="582.90" stroke="#000" stroke-width="1.3"/>
<polyline points="61.60,561.00 71.47,561.20 81.35,564.00 91.22,565.00 101.09,565.80 110.97,565.00 120.84,565.80 130.71,568.10 150.46,570.40 170.20,572.80 189.95,575.20 209.69,576.90 219.57,578.00 229.44,581.70 239.31,581.00 249.19,581.70" fill="none" stroke="#000" stroke-width="1.6" stroke-linejoin="round"/>
<path d="M56.90 564.36 L66.30 564.36 L61.60 556.36 Z" fill="#000"/>
<path d="M66.77 564.56 L76.17 564.56 L71.47 556.56 Z" fill="#000"/>
<path d="M76.65 567.36 L86.05 567.36 L81.35 559.36 Z" fill="#000"/>
<path d="M86.52 568.36 L95.92 568.36 L91.22 560.36 Z" fill="#000"/>
<path d="M96.39 569.16 L105.79 569.16 L101.09 561.16 Z" fill="#000"/>
<path d="M106.27 568.36 L115.67 568.36 L110.97 560.36 Z" fill="#000"/>
<path d="M116.14 569.16 L125.54 569.16 L120.84 561.16 Z" fill="#000"/>
<path d="M126.01 571.46 L135.41 571.46 L130.71 563.46 Z" fill="#000"/>
<path d="M145.76 573.76 L155.16 573.76 L150.46 565.76 Z" fill="#000"/>
<path d="M165.50 576.16 L174.90 576.16 L170.20 568.16 Z" fill="#000"/>
<path d="M185.25 578.56 L194.65 578.56 L189.95 570.56 Z" fill="#000"/>
<path d="M205.00 580.26 L214.39 580.26 L209.69 572.26 Z" fill="#000"/>
<path d="M214.87 581.36 L224.27 581.36 L219.57 573.36 Z" fill="#000"/>
<path d="M224.74 585.06 L234.14 585.06 L229.44 577.06 Z" fill="#000"/>
<path d="M234.61 584.36 L244.01 584.36 L239.31 576.36 Z" fill="#000"/>
<path d="M244.49 585.06 L253.89 585.06 L249.19 577.06 Z" fill="#000"/>
<polyline points="61.60,537.70 71.47,546.00 81.35,581.40 91.22,557.00 101.09,528.50 110.97,476.30 120.84,498.00 130.71,495.40 150.46,521.30 170.20,568.00 189.95,600.20 209.69,595.40 219.57,593.50 229.44,574.50 239.31,586.50 249.19,591.00" fill="none" stroke="#000" stroke-width="1.6" stroke-linejoin="round"/>
<circle cx="61.60" cy="537.70" r="3.65" fill="#fff" stroke="#000" stroke-width="1.25"/>
<circle cx="71.47" cy="546.00" r="3.65" fill="#fff" stroke="#000" stroke-width="1.25"/>
<circle cx="81.35" cy="581.40" r="3.65" fill="#fff" stroke="#000" stroke-width="1.25"/>
<circle cx="91.22" cy="557.00" r="3.65" fill="#fff" stroke="#000" stroke-width="1.25"/>
<circle cx="101.09" cy="528.50" r="3.65" fill="#fff" stroke="#000" stroke-width="1.25"/>
<circle cx="110.97" cy="476.30" r="3.65" fill="#fff" stroke="#000" stroke-width="1.25"/>
<circle cx="120.84" cy="498.00" r="3.65" fill="#fff" stroke="#000" stroke-width="1.25"/>
<circle cx="130.71" cy="495.40" r="3.65" fill="#fff" stroke="#000" stroke-width="1.25"/>
<circle cx="150.46" cy="521.30" r="3.65" fill="#fff" stroke="#000" stroke-width="1.25"/>
<circle cx="170.20" cy="568.00" r="3.65" fill="#fff" stroke="#000" stroke-width="1.25"/>
<circle cx="189.95" cy="600.20" r="3.65" fill="#fff" stroke="#000" stroke-width="1.25"/>
<circle cx="209.69" cy="595.40" r="3.65" fill="#fff" stroke="#000" stroke-width="1.25"/>
<circle cx="219.57" cy="593.50" r="3.65" fill="#fff" stroke="#000" stroke-width="1.25"/>
<circle cx="229.44" cy="574.50" r="3.65" fill="#fff" stroke="#000" stroke-width="1.25"/>
<circle cx="239.31" cy="586.50" r="3.65" fill="#fff" stroke="#000" stroke-width="1.25"/>
<circle cx="249.19" cy="591.00" r="3.65" fill="#fff" stroke="#000" stroke-width="1.25"/>
<polyline points="61.60,565.80 71.47,571.40 81.35,575.00 91.22,574.50 101.09,533.40 110.97,471.10 120.84,487.00 130.71,505.50 150.46,522.20 170.20,568.50 189.95,593.70 209.69,591.00 219.57,573.30 229.44,588.00 239.31,596.00 249.19,586.50" fill="none" stroke="#000" stroke-width="1.6" stroke-linejoin="round"/>
<line x1="81.35" y1="575.00" x2="81.35" y2="590.00" stroke="#000" stroke-width="1.3"/>
<line x1="189.95" y1="594.00" x2="189.95" y2="604.00" stroke="#000" stroke-width="1.3"/>
<circle cx="61.60" cy="565.80" r="4.3" fill="#000"/>
<circle cx="71.47" cy="571.40" r="4.3" fill="#000"/>
<circle cx="81.35" cy="575.00" r="4.3" fill="#000"/>
<circle cx="91.22" cy="574.50" r="4.3" fill="#000"/>
<circle cx="101.09" cy="533.40" r="4.3" fill="#000"/>
<circle cx="110.97" cy="471.10" r="4.3" fill="#000"/>
<circle cx="120.84" cy="487.00" r="4.3" fill="#000"/>
<circle cx="130.71" cy="505.50" r="4.3" fill="#000"/>
<circle cx="150.46" cy="522.20" r="4.3" fill="#000"/>
<circle cx="170.20" cy="568.50" r="4.3" fill="#000"/>
<circle cx="189.95" cy="593.70" r="4.3" fill="#000"/>
<circle cx="209.69" cy="591.00" r="4.3" fill="#000"/>
<circle cx="219.57" cy="573.30" r="4.3" fill="#000"/>
<circle cx="229.44" cy="588.00" r="4.3" fill="#000"/>
<circle cx="239.31" cy="596.00" r="4.3" fill="#000"/>
<circle cx="249.19" cy="586.50" r="4.3" fill="#000"/>
<polyline points="61.60,557.70 71.47,547.70 81.35,560.10 91.22,557.20 101.09,555.10 110.97,520.90 120.84,531.00 130.71,525.00 150.46,560.00 170.20,568.50 189.95,582.40 209.69,593.00 219.57,593.70 229.44,588.20 239.31,596.80 249.19,594.90" fill="none" stroke="#000" stroke-width="1.6" stroke-linejoin="round"/>
<circle cx="61.60" cy="557.70" r="3.65" fill="#e2e2e2" stroke="#000" stroke-width="1.25"/>
<circle cx="61.60" cy="557.70" r="1.0" fill="#222"/>
<circle cx="71.47" cy="547.70" r="3.65" fill="#e2e2e2" stroke="#000" stroke-width="1.25"/>
<circle cx="71.47" cy="547.70" r="1.0" fill="#222"/>
<circle cx="81.35" cy="560.10" r="3.65" fill="#e2e2e2" stroke="#000" stroke-width="1.25"/>
<circle cx="81.35" cy="560.10" r="1.0" fill="#222"/>
<circle cx="91.22" cy="557.20" r="3.65" fill="#e2e2e2" stroke="#000" stroke-width="1.25"/>
<circle cx="91.22" cy="557.20" r="1.0" fill="#222"/>
<circle cx="101.09" cy="555.10" r="3.65" fill="#e2e2e2" stroke="#000" stroke-width="1.25"/>
<circle cx="101.09" cy="555.10" r="1.0" fill="#222"/>
<circle cx="110.97" cy="520.90" r="3.65" fill="#e2e2e2" stroke="#000" stroke-width="1.25"/>
<circle cx="110.97" cy="520.90" r="1.0" fill="#222"/>
<circle cx="120.84" cy="531.00" r="3.65" fill="#e2e2e2" stroke="#000" stroke-width="1.25"/>
<circle cx="120.84" cy="531.00" r="1.0" fill="#222"/>
<circle cx="130.71" cy="525.00" r="3.65" fill="#e2e2e2" stroke="#000" stroke-width="1.25"/>
<circle cx="130.71" cy="525.00" r="1.0" fill="#222"/>
<circle cx="150.46" cy="560.00" r="3.65" fill="#e2e2e2" stroke="#000" stroke-width="1.25"/>
<circle cx="150.46" cy="560.00" r="1.0" fill="#222"/>
<circle cx="170.20" cy="568.50" r="3.65" fill="#e2e2e2" stroke="#000" stroke-width="1.25"/>
<circle cx="170.20" cy="568.50" r="1.0" fill="#222"/>
<circle cx="189.95" cy="582.40" r="3.65" fill="#e2e2e2" stroke="#000" stroke-width="1.25"/>
<circle cx="189.95" cy="582.40" r="1.0" fill="#222"/>
<circle cx="209.69" cy="593.00" r="3.65" fill="#e2e2e2" stroke="#000" stroke-width="1.25"/>
<circle cx="209.69" cy="593.00" r="1.0" fill="#222"/>
<circle cx="219.57" cy="593.70" r="3.65" fill="#e2e2e2" stroke="#000" stroke-width="1.25"/>
<circle cx="219.57" cy="593.70" r="1.0" fill="#222"/>
<circle cx="229.44" cy="588.20" r="3.65" fill="#e2e2e2" stroke="#000" stroke-width="1.25"/>
<circle cx="229.44" cy="588.20" r="1.0" fill="#222"/>
<circle cx="239.31" cy="596.80" r="3.65" fill="#e2e2e2" stroke="#000" stroke-width="1.25"/>
<circle cx="239.31" cy="596.80" r="1.0" fill="#222"/>
<circle cx="249.19" cy="594.90" r="3.65" fill="#e2e2e2" stroke="#000" stroke-width="1.25"/>
<circle cx="249.19" cy="594.90" r="1.0" fill="#222"/>
<line x1="52.30" y1="449.70" x2="52.30" y2="637.20" stroke="#2e2e2e" stroke-width="1.25"/>
<line x1="46.30" y1="449.70" x2="52.85" y2="449.70" stroke="#2e2e2e" stroke-width="1.25"/>
<text x="41.00" y="453.50" font-size="10.6" text-anchor="end" fill="#1a1a1a" >800</text>
<line x1="46.30" y1="496.57" x2="52.85" y2="496.57" stroke="#2e2e2e" stroke-width="1.25"/>
<text x="41.00" y="500.37" font-size="10.6" text-anchor="end" fill="#1a1a1a" >600</text>
<line x1="46.30" y1="543.45" x2="52.85" y2="543.45" stroke="#2e2e2e" stroke-width="1.25"/>
<text x="41.00" y="547.25" font-size="10.6" text-anchor="end" fill="#1a1a1a" >400</text>
<line x1="46.30" y1="590.32" x2="52.85" y2="590.32" stroke="#2e2e2e" stroke-width="1.25"/>
<text x="41.00" y="594.12" font-size="10.6" text-anchor="end" fill="#1a1a1a" >200</text>
<line x1="46.30" y1="637.20" x2="52.85" y2="637.20" stroke="#2e2e2e" stroke-width="1.25"/>
<text x="41.00" y="641.00" font-size="10.6" text-anchor="end" fill="#1a1a1a" >0</text>
<text x="108.50" y="448.80" font-size="13.7" text-anchor="start" fill="#1a1a1a" >Plasma cortisol</text>
<text x="87.90" y="467.20" font-size="13.2" font-weight="bold" font-style="italic" text-anchor="middle" fill="#111">t</text>
<text x="90.70" y="471.40" font-size="8" font-weight="bold" font-style="italic" text-anchor="start" fill="#111">1</text>
<text x="164.20" y="467.20" font-size="13.2" font-weight="bold" font-style="italic" text-anchor="middle" fill="#111">t</text>
<text x="167.00" y="471.40" font-size="8" font-weight="bold" font-style="italic" text-anchor="start" fill="#111">2</text>
<text x="225.20" y="467.20" font-size="13.2" font-weight="bold" font-style="italic" text-anchor="middle" fill="#111">t</text>
<text x="228.00" y="471.40" font-size="8" font-weight="bold" font-style="italic" text-anchor="start" fill="#111">3</text>
<text transform="translate(13.05,543.10) rotate(-90)" font-size="13.5" text-anchor="middle" fill="#1a1a1a">mmol/l</text>
<line x1="61.10" y1="646.40" x2="249.69" y2="646.40" stroke="#2e2e2e" stroke-width="1.25"/>
<line x1="61.60" y1="646.40" x2="61.60" y2="650.90" stroke="#2e2e2e" stroke-width="1.25"/>
<line x1="71.47" y1="646.40" x2="71.47" y2="650.90" stroke="#2e2e2e" stroke-width="1.25"/>
<text transform="translate(76.77,658.40) rotate(-72)" font-size="10.9" text-anchor="end" fill="#1a1a1a">0</text>
<line x1="81.35" y1="646.40" x2="81.35" y2="650.90" stroke="#2e2e2e" stroke-width="1.25"/>
<line x1="91.22" y1="646.40" x2="91.22" y2="650.90" stroke="#2e2e2e" stroke-width="1.25"/>
<text transform="translate(96.52,657.60) rotate(-72)" font-size="10.9" text-anchor="end" fill="#1a1a1a">60</text>
<line x1="101.09" y1="646.40" x2="101.09" y2="650.90" stroke="#2e2e2e" stroke-width="1.25"/>
<line x1="110.97" y1="646.40" x2="110.97" y2="650.90" stroke="#2e2e2e" stroke-width="1.25"/>
<text transform="translate(116.27,657.60) rotate(-72)" font-size="10.9" text-anchor="end" fill="#1a1a1a">120</text>
<line x1="120.84" y1="646.40" x2="120.84" y2="650.90" stroke="#2e2e2e" stroke-width="1.25"/>
<line x1="130.71" y1="646.40" x2="130.71" y2="650.90" stroke="#2e2e2e" stroke-width="1.25"/>
<text transform="translate(136.01,657.60) rotate(-72)" font-size="10.9" text-anchor="end" fill="#1a1a1a">180</text>
<line x1="150.46" y1="646.40" x2="150.46" y2="650.90" stroke="#2e2e2e" stroke-width="1.25"/>
<text transform="translate(155.76,657.60) rotate(-72)" font-size="10.9" text-anchor="end" fill="#1a1a1a">240</text>
<line x1="170.20" y1="646.40" x2="170.20" y2="650.90" stroke="#2e2e2e" stroke-width="1.25"/>
<text transform="translate(175.50,657.60) rotate(-72)" font-size="10.9" text-anchor="end" fill="#1a1a1a">300</text>
<line x1="189.95" y1="646.40" x2="189.95" y2="650.90" stroke="#2e2e2e" stroke-width="1.25"/>
<text transform="translate(195.25,657.60) rotate(-72)" font-size="10.9" text-anchor="end" fill="#1a1a1a">360</text>
<line x1="209.69" y1="646.40" x2="209.69" y2="650.90" stroke="#2e2e2e" stroke-width="1.25"/>
<text transform="translate(215.00,657.60) rotate(-72)" font-size="10.9" text-anchor="end" fill="#1a1a1a">420</text>
<line x1="219.57" y1="646.40" x2="219.57" y2="650.90" stroke="#2e2e2e" stroke-width="1.25"/>
<line x1="229.44" y1="646.40" x2="229.44" y2="650.90" stroke="#2e2e2e" stroke-width="1.25"/>
<text transform="translate(234.74,657.60) rotate(-72)" font-size="10.9" text-anchor="end" fill="#1a1a1a">480</text>
<line x1="239.31" y1="646.40" x2="239.31" y2="650.90" stroke="#2e2e2e" stroke-width="1.25"/>
<line x1="249.19" y1="646.40" x2="249.19" y2="650.90" stroke="#2e2e2e" stroke-width="1.25"/>
<text transform="translate(254.49,657.60) rotate(-72)" font-size="10.9" text-anchor="end" fill="#1a1a1a">540</text>
<text x="156.00" y="691.40" font-size="11.6" text-anchor="middle" fill="#1a1a1a" >Time (min)</text>
<clipPath id="c5"><rect x="272.80" y="451.60" width="69.70" height="193.70"/></clipPath>
<path d="M80.44 645.30 L258.15 451.60 M91.36 645.30 L269.07 451.60 M102.28 645.30 L279.99 451.60 M113.20 645.30 L290.91 451.60 M124.12 645.30 L301.83 451.60 M135.04 645.30 L312.75 451.60 M145.96 645.30 L323.67 451.60 M156.88 645.30 L334.59 451.60 M167.80 645.30 L345.51 451.60 M178.72 645.30 L356.43 451.60 M189.64 645.30 L367.35 451.60 M200.56 645.30 L378.27 451.60 M211.48 645.30 L389.19 451.60 M222.40 645.30 L400.11 451.60 M233.32 645.30 L411.03 451.60 M244.24 645.30 L421.95 451.60 M255.16 645.30 L432.87 451.60 M266.08 645.30 L443.79 451.60 M277.00 645.30 L454.71 451.60 M287.92 645.30 L465.63 451.60 M298.84 645.30 L476.55 451.60 M309.76 645.30 L487.47 451.60 M320.68 645.30 L498.39 451.60 M331.60 645.30 L509.31 451.60 M342.52 645.30 L520.23 451.60" stroke="#d1d1d1" stroke-width="1.35" fill="none" clip-path="url(#c5)"/>
<rect x="421.50" y="451.60" width="39.20" height="193.70" fill="url(#dots)"/>
<path d="M272.80 451.60 H460.70 M272.80 645.30 H460.70" fill="none" stroke="#dcdcdc" stroke-width="1"/>
<line x1="272.80" y1="451.60" x2="272.80" y2="645.30" stroke="#d5d5d5" stroke-width="1"/>
<line x1="342.50" y1="451.60" x2="342.50" y2="645.30" stroke="#d5d5d5" stroke-width="1"/>
<line x1="421.50" y1="451.60" x2="421.50" y2="645.30" stroke="#d5d5d5" stroke-width="1"/>
<line x1="460.70" y1="451.60" x2="460.70" y2="645.30" stroke="#d5d5d5" stroke-width="1"/>
<line x1="302.74" y1="560.70" x2="302.74" y2="578.80" stroke="#000" stroke-width="1.3"/>
<line x1="302.74" y1="612.00" x2="302.74" y2="636.00" stroke="#000" stroke-width="1.3"/>
<line x1="312.62" y1="526.00" x2="312.62" y2="543.40" stroke="#000" stroke-width="1.3"/>
<line x1="312.62" y1="580.00" x2="312.62" y2="618.00" stroke="#000" stroke-width="1.3"/>
<line x1="322.50" y1="493.60" x2="322.50" y2="516.00" stroke="#000" stroke-width="1.3"/>
<line x1="322.50" y1="534.70" x2="322.50" y2="589.20" stroke="#000" stroke-width="1.3"/>
<line x1="332.37" y1="478.40" x2="332.37" y2="506.00" stroke="#000" stroke-width="1.3"/>
<line x1="332.37" y1="525.20" x2="332.37" y2="597.90" stroke="#000" stroke-width="1.3"/>
<line x1="342.25" y1="459.40" x2="342.25" y2="478.00" stroke="#000" stroke-width="1.3"/>
<line x1="342.25" y1="549.80" x2="342.25" y2="560.00" stroke="#000" stroke-width="1.3"/>
<line x1="362.01" y1="590.00" x2="362.01" y2="626.00" stroke="#000" stroke-width="1.3"/>
<line x1="401.53" y1="598.00" x2="401.53" y2="617.00" stroke="#000" stroke-width="1.3"/>
<line x1="421.29" y1="597.00" x2="421.29" y2="605.00" stroke="#000" stroke-width="1.3"/>
<line x1="273.10" y1="612.00" x2="273.10" y2="620.00" stroke="#000" stroke-width="1.3"/>
<line x1="282.98" y1="612.00" x2="282.98" y2="620.00" stroke="#000" stroke-width="1.3"/>
<polyline points="273.10,619.00 282.98,620.00 292.86,622.70 302.74,621.10 312.62,618.10 322.50,621.60 332.37,618.10 342.25,622.80 362.01,619.30 381.77,621.50 401.53,622.50 421.29,617.00 431.16,617.00 441.04,615.00 450.92,616.00 460.80,618.00" fill="none" stroke="#000" stroke-width="1.6" stroke-linejoin="round"/>
<path d="M268.40 622.36 L277.80 622.36 L273.10 614.36 Z" fill="#000"/>
<path d="M278.28 623.36 L287.68 623.36 L282.98 615.36 Z" fill="#000"/>
<path d="M288.16 626.06 L297.56 626.06 L292.86 618.06 Z" fill="#000"/>
<path d="M298.04 624.46 L307.44 624.46 L302.74 616.46 Z" fill="#000"/>
<path d="M307.92 621.46 L317.32 621.46 L312.62 613.46 Z" fill="#000"/>
<path d="M317.80 624.96 L327.19 624.96 L322.50 616.96 Z" fill="#000"/>
<path d="M327.67 621.46 L337.07 621.46 L332.37 613.46 Z" fill="#000"/>
<path d="M337.55 626.16 L346.95 626.16 L342.25 618.16 Z" fill="#000"/>
<path d="M357.31 622.66 L366.71 622.66 L362.01 614.66 Z" fill="#000"/>
<path d="M377.07 624.86 L386.47 624.86 L381.77 616.86 Z" fill="#000"/>
<path d="M396.83 625.86 L406.23 625.86 L401.53 617.86 Z" fill="#000"/>
<path d="M416.59 620.36 L425.99 620.36 L421.29 612.36 Z" fill="#000"/>
<path d="M426.46 620.36 L435.86 620.36 L431.16 612.36 Z" fill="#000"/>
<path d="M436.34 618.36 L445.74 618.36 L441.04 610.36 Z" fill="#000"/>
<path d="M446.22 619.36 L455.62 619.36 L450.92 611.36 Z" fill="#000"/>
<path d="M456.10 621.36 L465.50 621.36 L460.80 613.36 Z" fill="#000"/>
<polyline points="273.10,617.50 282.98,618.00 292.86,619.50 302.74,578.80 312.62,564.60 322.50,553.00 332.37,544.20 342.25,525.20 362.01,613.80 381.77,609.00 401.53,612.00 421.29,610.50 431.16,618.80 441.04,623.80 450.92,627.50 460.80,630.00" fill="none" stroke="#000" stroke-width="1.6" stroke-linejoin="round"/>
<circle cx="273.10" cy="617.50" r="3.65" fill="#fff" stroke="#000" stroke-width="1.25"/>
<circle cx="282.98" cy="618.00" r="3.65" fill="#fff" stroke="#000" stroke-width="1.25"/>
<circle cx="292.86" cy="619.50" r="3.65" fill="#fff" stroke="#000" stroke-width="1.25"/>
<circle cx="302.74" cy="578.80" r="3.65" fill="#fff" stroke="#000" stroke-width="1.25"/>
<circle cx="312.62" cy="564.60" r="3.65" fill="#fff" stroke="#000" stroke-width="1.25"/>
<circle cx="322.50" cy="553.00" r="3.65" fill="#fff" stroke="#000" stroke-width="1.25"/>
<circle cx="332.37" cy="544.20" r="3.65" fill="#fff" stroke="#000" stroke-width="1.25"/>
<circle cx="342.25" cy="525.20" r="3.65" fill="#fff" stroke="#000" stroke-width="1.25"/>
<circle cx="362.01" cy="613.80" r="3.65" fill="#fff" stroke="#000" stroke-width="1.25"/>
<circle cx="381.77" cy="609.00" r="3.65" fill="#fff" stroke="#000" stroke-width="1.25"/>
<circle cx="401.53" cy="612.00" r="3.65" fill="#fff" stroke="#000" stroke-width="1.25"/>
<circle cx="421.29" cy="610.50" r="3.65" fill="#fff" stroke="#000" stroke-width="1.25"/>
<circle cx="431.16" cy="618.80" r="3.65" fill="#fff" stroke="#000" stroke-width="1.25"/>
<circle cx="441.04" cy="623.80" r="3.65" fill="#fff" stroke="#000" stroke-width="1.25"/>
<circle cx="450.92" cy="627.50" r="3.65" fill="#fff" stroke="#000" stroke-width="1.25"/>
<circle cx="460.80" cy="630.00" r="3.65" fill="#fff" stroke="#000" stroke-width="1.25"/>
<polyline points="273.10,619.70 282.98,619.30 292.86,618.80 302.74,585.70 312.62,543.40 322.50,515.80 332.37,506.30 342.25,478.10 362.01,601.50 381.77,601.30 401.53,602.50 421.29,601.30 431.16,607.00 441.04,610.00 450.92,612.00 460.80,618.00" fill="none" stroke="#000" stroke-width="1.6" stroke-linejoin="round"/>
<line x1="302.74" y1="560.70" x2="302.74" y2="585.70" stroke="#000" stroke-width="1.3"/>
<line x1="362.01" y1="590.00" x2="362.01" y2="626.00" stroke="#000" stroke-width="1.3"/>
<line x1="431.16" y1="612.00" x2="431.16" y2="624.00" stroke="#000" stroke-width="1.3"/>
<circle cx="273.10" cy="619.70" r="4.3" fill="#000"/>
<circle cx="282.98" cy="619.30" r="4.3" fill="#000"/>
<circle cx="292.86" cy="618.80" r="4.3" fill="#000"/>
<circle cx="302.74" cy="585.70" r="4.3" fill="#000"/>
<circle cx="312.62" cy="543.40" r="4.3" fill="#000"/>
<circle cx="322.50" cy="515.80" r="4.3" fill="#000"/>
<circle cx="332.37" cy="506.30" r="4.3" fill="#000"/>
<circle cx="342.25" cy="478.10" r="4.3" fill="#000"/>
<circle cx="362.01" cy="601.50" r="4.3" fill="#000"/>
<circle cx="381.77" cy="601.30" r="4.3" fill="#000"/>
<circle cx="401.53" cy="602.50" r="4.3" fill="#000"/>
<circle cx="421.29" cy="601.30" r="4.3" fill="#000"/>
<circle cx="431.16" cy="607.00" r="4.3" fill="#000"/>
<circle cx="441.04" cy="610.00" r="4.3" fill="#000"/>
<circle cx="450.92" cy="612.00" r="4.3" fill="#000"/>
<circle cx="460.80" cy="618.00" r="4.3" fill="#000"/>
<polyline points="273.10,630.30 282.98,631.30 292.86,634.70 302.74,608.90 312.62,578.00 322.50,554.60 332.37,562.40 342.25,549.80 362.01,604.60 381.77,608.30 401.53,606.30 421.29,610.00 431.16,611.80 441.04,609.50 450.92,624.50 460.80,623.80" fill="none" stroke="#000" stroke-width="1.6" stroke-linejoin="round"/>
<circle cx="273.10" cy="630.30" r="3.65" fill="#e2e2e2" stroke="#000" stroke-width="1.25"/>
<circle cx="273.10" cy="630.30" r="1.0" fill="#222"/>
<circle cx="282.98" cy="631.30" r="3.65" fill="#e2e2e2" stroke="#000" stroke-width="1.25"/>
<circle cx="282.98" cy="631.30" r="1.0" fill="#222"/>
<circle cx="292.86" cy="634.70" r="3.65" fill="#e2e2e2" stroke="#000" stroke-width="1.25"/>
<circle cx="292.86" cy="634.70" r="1.0" fill="#222"/>
<circle cx="302.74" cy="608.90" r="3.65" fill="#e2e2e2" stroke="#000" stroke-width="1.25"/>
<circle cx="302.74" cy="608.90" r="1.0" fill="#222"/>
<circle cx="312.62" cy="578.00" r="3.65" fill="#e2e2e2" stroke="#000" stroke-width="1.25"/>
<circle cx="312.62" cy="578.00" r="1.0" fill="#222"/>
<circle cx="322.50" cy="554.60" r="3.65" fill="#e2e2e2" stroke="#000" stroke-width="1.25"/>
<circle cx="322.50" cy="554.60" r="1.0" fill="#222"/>
<circle cx="332.37" cy="562.40" r="3.65" fill="#e2e2e2" stroke="#000" stroke-width="1.25"/>
<circle cx="332.37" cy="562.40" r="1.0" fill="#222"/>
<circle cx="342.25" cy="549.80" r="3.65" fill="#e2e2e2" stroke="#000" stroke-width="1.25"/>
<circle cx="342.25" cy="549.80" r="1.0" fill="#222"/>
<circle cx="362.01" cy="604.60" r="3.65" fill="#e2e2e2" stroke="#000" stroke-width="1.25"/>
<circle cx="362.01" cy="604.60" r="1.0" fill="#222"/>
<circle cx="381.77" cy="608.30" r="3.65" fill="#e2e2e2" stroke="#000" stroke-width="1.25"/>
<circle cx="381.77" cy="608.30" r="1.0" fill="#222"/>
<circle cx="401.53" cy="606.30" r="3.65" fill="#e2e2e2" stroke="#000" stroke-width="1.25"/>
<circle cx="401.53" cy="606.30" r="1.0" fill="#222"/>
<circle cx="421.29" cy="610.00" r="3.65" fill="#e2e2e2" stroke="#000" stroke-width="1.25"/>
<circle cx="421.29" cy="610.00" r="1.0" fill="#222"/>
<circle cx="431.16" cy="611.80" r="3.65" fill="#e2e2e2" stroke="#000" stroke-width="1.25"/>
<circle cx="431.16" cy="611.80" r="1.0" fill="#222"/>
<circle cx="441.04" cy="609.50" r="3.65" fill="#e2e2e2" stroke="#000" stroke-width="1.25"/>
<circle cx="441.04" cy="609.50" r="1.0" fill="#222"/>
<circle cx="450.92" cy="624.50" r="3.65" fill="#e2e2e2" stroke="#000" stroke-width="1.25"/>
<circle cx="450.92" cy="624.50" r="1.0" fill="#222"/>
<circle cx="460.80" cy="623.80" r="3.65" fill="#e2e2e2" stroke="#000" stroke-width="1.25"/>
<circle cx="460.80" cy="623.80" r="1.0" fill="#222"/>
<line x1="470.50" y1="450.30" x2="470.50" y2="637.70" stroke="#2e2e2e" stroke-width="1.25"/>
<line x1="469.95" y1="450.30" x2="477.00" y2="450.30" stroke="#2e2e2e" stroke-width="1.25"/>
<text x="481.40" y="454.10" font-size="10.6" text-anchor="start" fill="#1a1a1a" >20</text>
<line x1="469.95" y1="497.15" x2="477.00" y2="497.15" stroke="#2e2e2e" stroke-width="1.25"/>
<text x="481.40" y="500.95" font-size="10.6" text-anchor="start" fill="#1a1a1a" >15</text>
<line x1="469.95" y1="544.00" x2="477.00" y2="544.00" stroke="#2e2e2e" stroke-width="1.25"/>
<text x="481.40" y="547.80" font-size="10.6" text-anchor="start" fill="#1a1a1a" >10</text>
<line x1="469.95" y1="590.85" x2="477.00" y2="590.85" stroke="#2e2e2e" stroke-width="1.25"/>
<text x="481.40" y="594.65" font-size="10.6" text-anchor="start" fill="#1a1a1a" >5</text>
<line x1="469.95" y1="637.70" x2="477.00" y2="637.70" stroke="#2e2e2e" stroke-width="1.25"/>
<text x="481.40" y="641.50" font-size="10.6" text-anchor="start" fill="#1a1a1a" >0</text>
<text x="293.50" y="449.00" font-size="13.7" text-anchor="start" fill="#1a1a1a" >Plasma growth hormone</text>
<text x="304.30" y="467.30" font-size="13.2" font-weight="bold" font-style="italic" text-anchor="middle" fill="#111">t</text>
<text x="307.10" y="471.50" font-size="8" font-weight="bold" font-style="italic" text-anchor="start" fill="#111">1</text>
<text x="379.60" y="467.30" font-size="13.2" font-weight="bold" font-style="italic" text-anchor="middle" fill="#111">t</text>
<text x="382.40" y="471.50" font-size="8" font-weight="bold" font-style="italic" text-anchor="start" fill="#111">2</text>
<text x="438.50" y="467.30" font-size="13.2" font-weight="bold" font-style="italic" text-anchor="middle" fill="#111">t</text>
<text x="441.30" y="471.50" font-size="8" font-weight="bold" font-style="italic" text-anchor="start" fill="#111">3</text>
<text transform="translate(517.60,539.00) rotate(-90)" font-size="13.2" text-anchor="middle" fill="#1a1a1a">&#181;g/l</text>
<line x1="272.90" y1="647.40" x2="461.60" y2="647.40" stroke="#2e2e2e" stroke-width="1.25"/>
<line x1="273.40" y1="647.40" x2="273.40" y2="651.90" stroke="#2e2e2e" stroke-width="1.25"/>
<line x1="283.28" y1="647.40" x2="283.28" y2="651.90" stroke="#2e2e2e" stroke-width="1.25"/>
<text transform="translate(288.58,659.40) rotate(-72)" font-size="10.9" text-anchor="end" fill="#1a1a1a">0</text>
<line x1="293.16" y1="647.40" x2="293.16" y2="651.90" stroke="#2e2e2e" stroke-width="1.25"/>
<line x1="303.04" y1="647.40" x2="303.04" y2="651.90" stroke="#2e2e2e" stroke-width="1.25"/>
<text transform="translate(308.34,658.60) rotate(-72)" font-size="10.9" text-anchor="end" fill="#1a1a1a">60</text>
<line x1="312.92" y1="647.40" x2="312.92" y2="651.90" stroke="#2e2e2e" stroke-width="1.25"/>
<line x1="322.79" y1="647.40" x2="322.79" y2="651.90" stroke="#2e2e2e" stroke-width="1.25"/>
<text transform="translate(328.09,658.60) rotate(-72)" font-size="10.9" text-anchor="end" fill="#1a1a1a">120</text>
<line x1="332.67" y1="647.40" x2="332.67" y2="651.90" stroke="#2e2e2e" stroke-width="1.25"/>
<line x1="342.55" y1="647.40" x2="342.55" y2="651.90" stroke="#2e2e2e" stroke-width="1.25"/>
<text transform="translate(347.85,658.60) rotate(-72)" font-size="10.9" text-anchor="end" fill="#1a1a1a">180</text>
<line x1="362.31" y1="647.40" x2="362.31" y2="651.90" stroke="#2e2e2e" stroke-width="1.25"/>
<text transform="translate(367.61,658.60) rotate(-72)" font-size="10.9" text-anchor="end" fill="#1a1a1a">240</text>
<line x1="382.07" y1="647.40" x2="382.07" y2="651.90" stroke="#2e2e2e" stroke-width="1.25"/>
<text transform="translate(387.37,658.60) rotate(-72)" font-size="10.9" text-anchor="end" fill="#1a1a1a">300</text>
<line x1="401.83" y1="647.40" x2="401.83" y2="651.90" stroke="#2e2e2e" stroke-width="1.25"/>
<text transform="translate(407.13,658.60) rotate(-72)" font-size="10.9" text-anchor="end" fill="#1a1a1a">360</text>
<line x1="421.58" y1="647.40" x2="421.58" y2="651.90" stroke="#2e2e2e" stroke-width="1.25"/>
<text transform="translate(426.88,658.60) rotate(-72)" font-size="10.9" text-anchor="end" fill="#1a1a1a">420</text>
<line x1="431.46" y1="647.40" x2="431.46" y2="651.90" stroke="#2e2e2e" stroke-width="1.25"/>
<line x1="441.34" y1="647.40" x2="441.34" y2="651.90" stroke="#2e2e2e" stroke-width="1.25"/>
<text transform="translate(446.64,658.60) rotate(-72)" font-size="10.9" text-anchor="end" fill="#1a1a1a">480</text>
<line x1="451.22" y1="647.40" x2="451.22" y2="651.90" stroke="#2e2e2e" stroke-width="1.25"/>
<line x1="461.10" y1="647.40" x2="461.10" y2="651.90" stroke="#2e2e2e" stroke-width="1.25"/>
<text transform="translate(466.40,658.60) rotate(-72)" font-size="10.9" text-anchor="end" fill="#1a1a1a">540</text>
<text x="367.30" y="692.20" font-size="11.6" text-anchor="middle" fill="#1a1a1a" >Time (min)</text>
<line x1="268.6" y1="124.70" x2="295.2" y2="124.70" stroke="#000" stroke-width="1.2"/>
<path d="M277.50 128.06 L286.90 128.06 L282.20 120.06 Z" fill="#000"/>
<text x="302.00" y="128.80" font-size="11.4" text-anchor="start" fill="#1a1a1a" >Study 1</text>
<line x1="268.6" y1="139.30" x2="295.2" y2="139.30" stroke="#000" stroke-width="1.2"/>
<circle cx="282.20" cy="139.30" r="3.7" fill="#fff" stroke="#000" stroke-width="1.25"/>
<text x="302.00" y="143.40" font-size="11.4" text-anchor="start" fill="#1a1a1a" >Study 2</text>
<line x1="268.6" y1="153.90" x2="295.2" y2="153.90" stroke="#000" stroke-width="1.2"/>
<circle cx="282.20" cy="153.90" r="4.3500000000000005" fill="#000"/>
<text x="302.00" y="158.00" font-size="11.4" text-anchor="start" fill="#1a1a1a" >Study 3</text>
<line x1="268.6" y1="168.50" x2="295.2" y2="168.50" stroke="#000" stroke-width="1.2"/>
<circle cx="282.20" cy="168.50" r="3.7" fill="#e2e2e2" stroke="#000" stroke-width="1.25"/>
<circle cx="282.20" cy="168.50" r="1.0" fill="#222"/>
<text x="302.00" y="172.60" font-size="11.4" text-anchor="start" fill="#1a1a1a" >Study 4</text>
</svg>
</body></html>
